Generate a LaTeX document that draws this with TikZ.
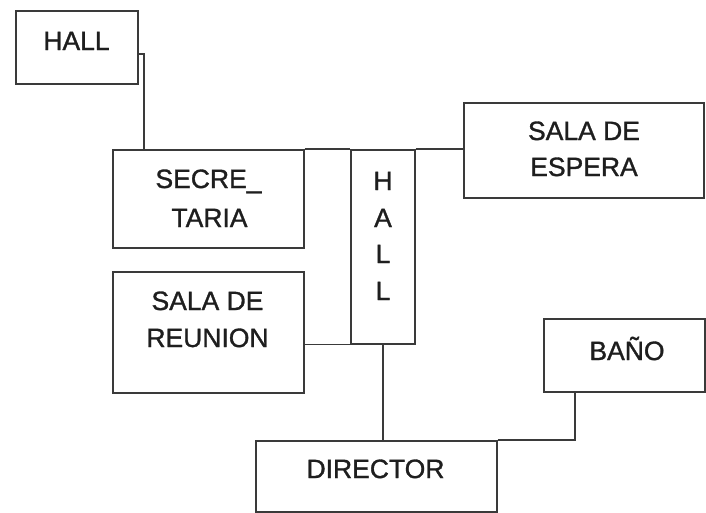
\documentclass[tikz,border=0pt]{standalone}
\usepackage{fontspec}
\setmainfont{Liberation Sans}
\newfontfamily\roomfont{Liberation Sans}[RawFeature={embolden=1.2}]
\usetikzlibrary{positioning}
\definecolor{wallgray}{HTML}{3A3A3A}
\definecolor{inkgray}{HTML}{1E1E1E}
\tikzset{
    room/.style={draw=wallgray,line width=1.5pt,anchor=north west,inner sep=0pt},
    lbl/.style={anchor=base,inner sep=0pt,text=inkgray,font=\fontsize{26.5}{32}\roomfont},
    link/.style={draw=wallgray,line width=1.5pt}
}

\begin{document}
\begin{tikzpicture}[x=1pt,y=-1pt]
        \useasboundingbox (0,0) rectangle (706,512);
        % rooms
        \node[room,minimum width=122pt,minimum height=73pt] (hallA) at (15,10) {};
        \node[room,minimum width=191pt,minimum height=98pt] (secre) at (112,149) {};
        \node[room,minimum width=64pt,minimum height=194pt] (hallB) at (350,149) {};
        \node[room,minimum width=240pt,minimum height=95pt] (espera) at (463,102) {};
        \node[room,minimum width=191pt,minimum height=121pt] (reunion) at (112,271) {};
        \node[room,minimum width=241pt,minimum height=71pt] (director) at (255,440) {};
        \node[room,minimum width=161pt,minimum height=73pt] (bano) at (543,318) {};
        % names
        \node[lbl] (hallAtxt) at (76.5,50) {HALL};
        \node[lbl] (secreA) at (208.5,188) {SECRE\_};
        \node[lbl] (secreB) at (209.5,227) {TARIA};
        \node[lbl] (esperaA) at (584,140) {SALA DE};
        \node[lbl] (esperaB) at (584,176) {ESPERA};
        \node[lbl] (reunionA) at (207.5,310) {SALA DE};
        \node[lbl] (reunionB) at (207.5,347) {REUNION};
        \node[lbl] (directortxt) at (375.5,478) {DIRECTOR};
        \node[lbl] (banotxt) at (627,360) {BAÑO};
        \foreach \c/\y in {H/190,A/227,L/263,L/300}
            \node[lbl] (hallB-\y) at (383,\y) {\c};
        % connections
        \draw[link] ([yshift=-6.5pt]hallA.east) -| ([xshift=32pt]secre.north west);
        \draw[link] (secre.north east) -- (hallB.north west);
        \draw[link] (hallB.north east) -- (espera.west |- hallB.north east);
        \draw[link] (hallB.south west) -- (reunion.east |- hallB.south west);
        \draw[link] (hallB.south) -- (hallB.south |- director.north);
        \draw[link] (director.north east) -| ([xshift=32pt]bano.south west);
\end{tikzpicture}
\end{document}
